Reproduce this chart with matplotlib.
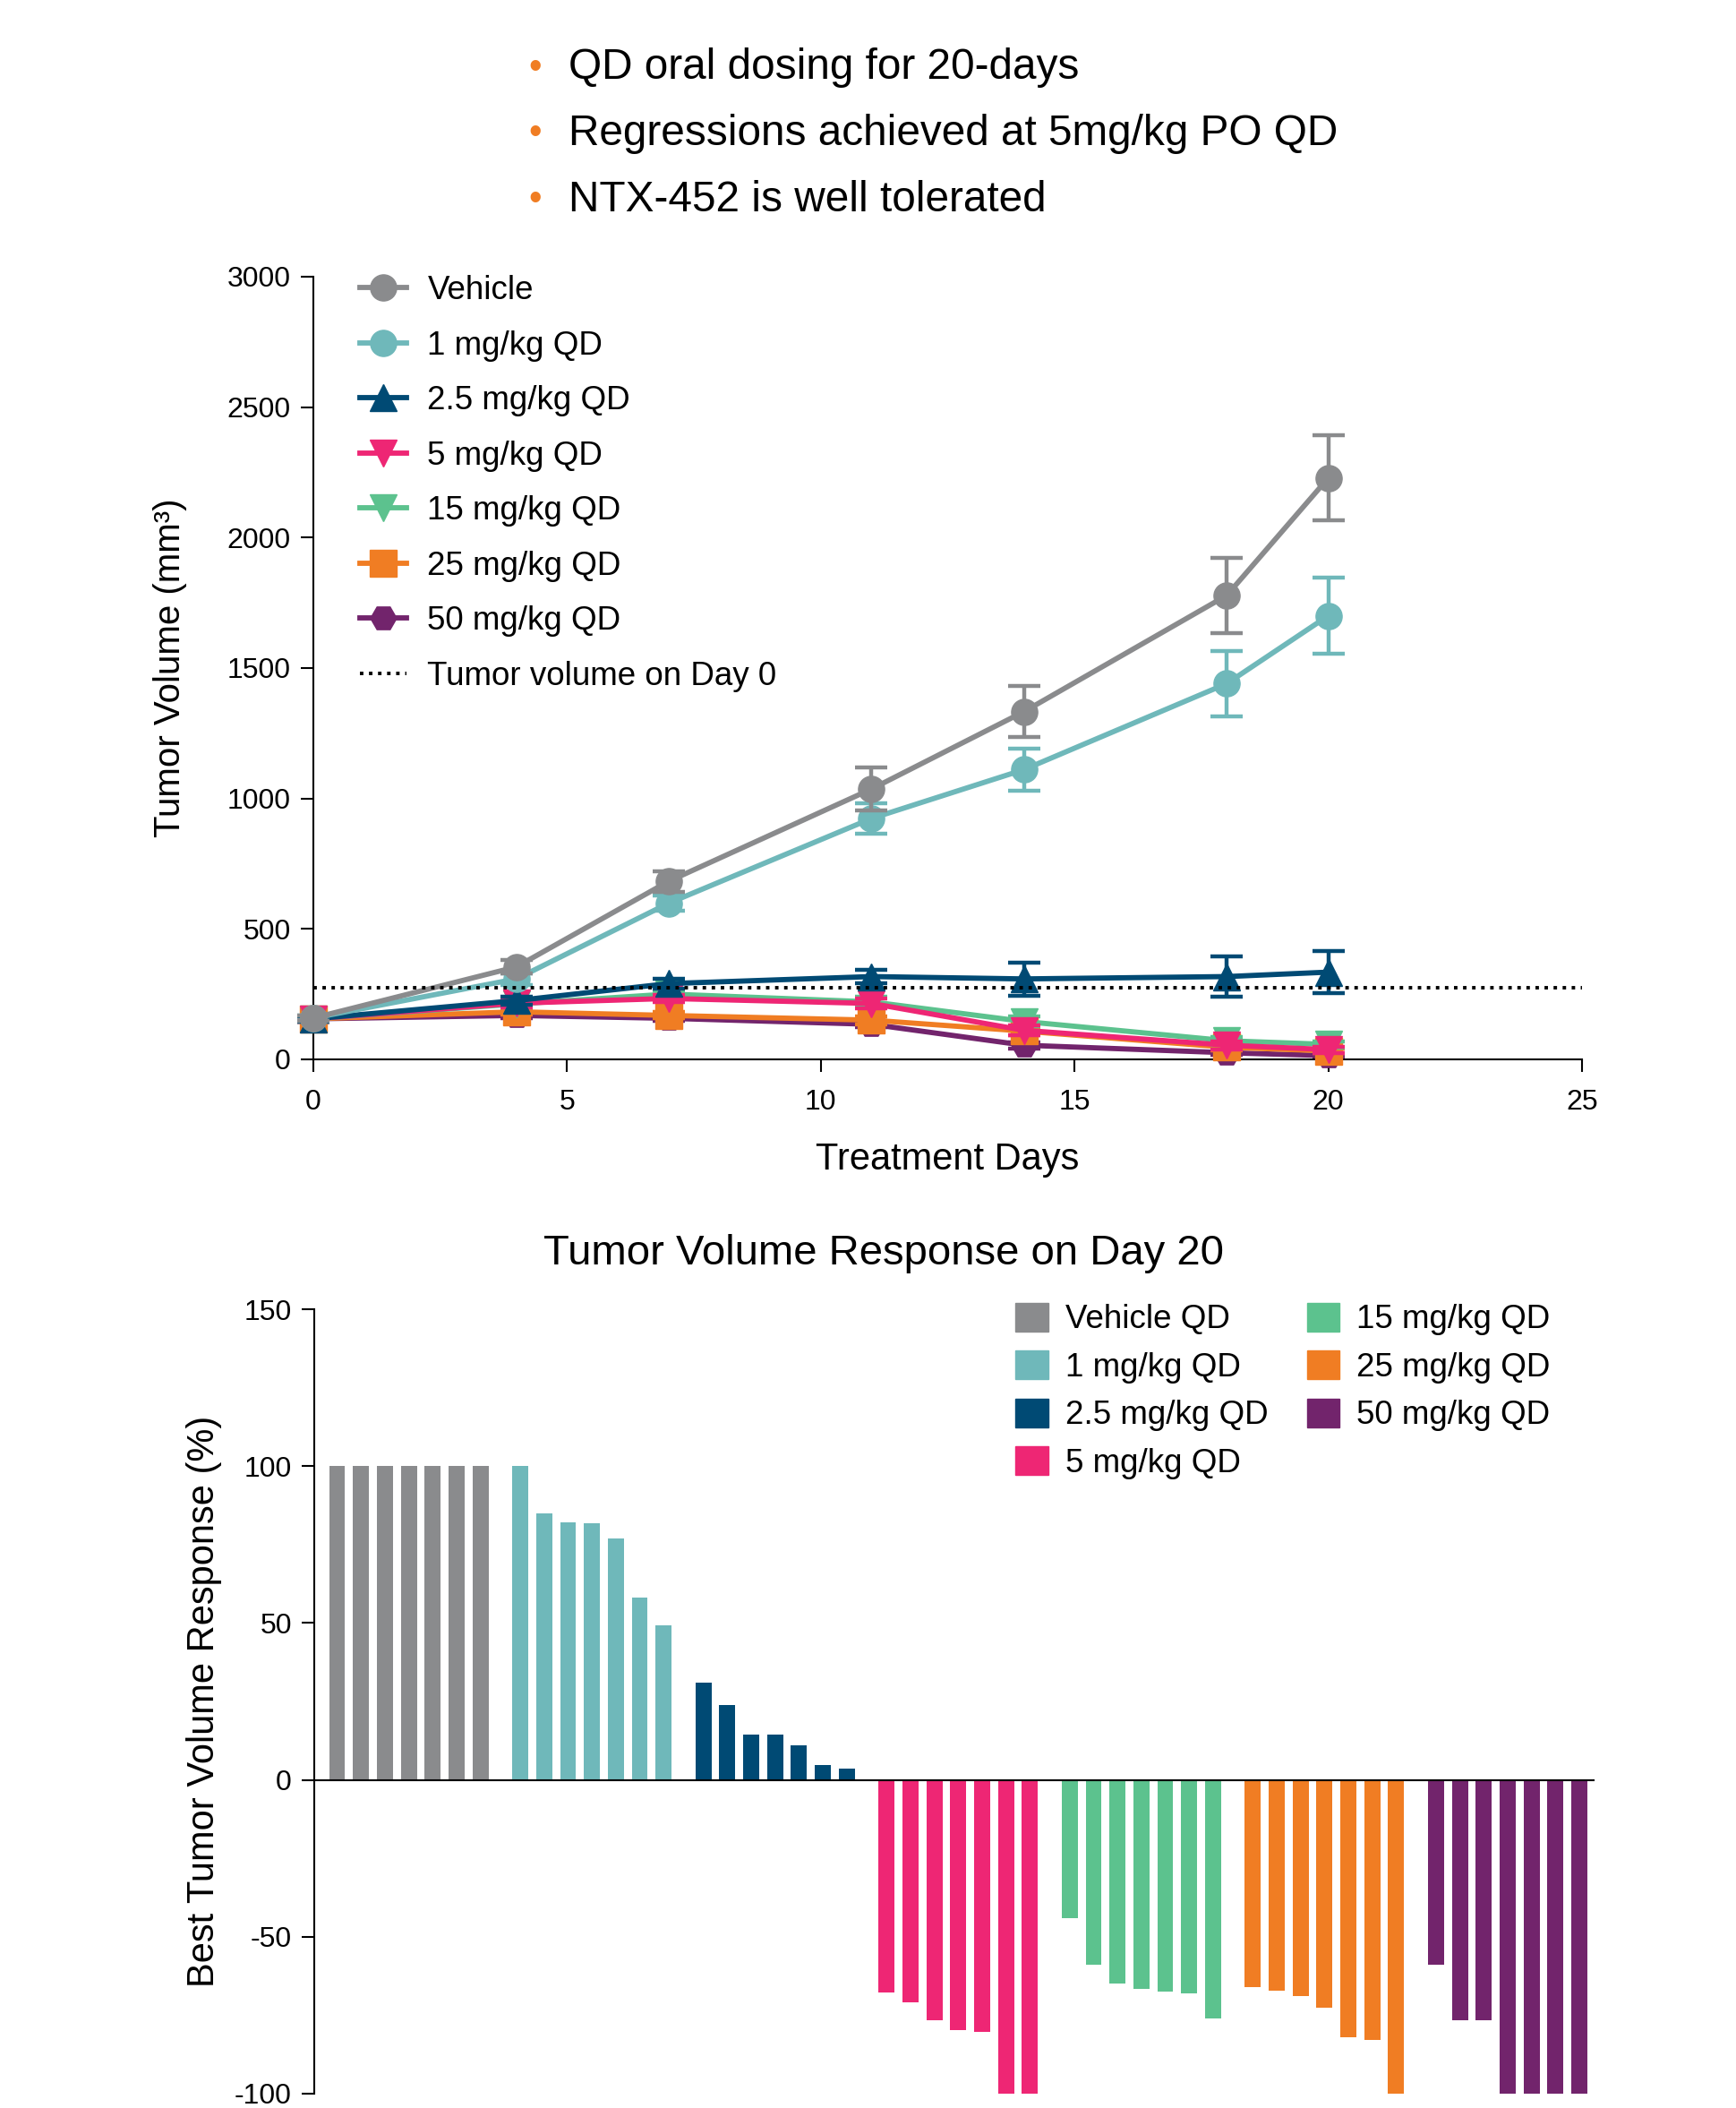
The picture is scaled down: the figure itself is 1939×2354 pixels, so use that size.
import numpy as np
import matplotlib.pyplot as plt
from matplotlib.patches import Patch
from matplotlib.lines import Line2D

plt.rcParams['font.family'] = ['Liberation Sans', 'DejaVu Sans']
plt.rcParams['axes.unicode_minus'] = False

# ---- tumor growth data ----
days = [0, 4, 7, 11, 14, 18, 20]
groups = ['Vehicle', '1 mg/kg QD', '2.5 mg/kg QD', '5 mg/kg QD',
          '15 mg/kg QD', '25 mg/kg QD', '50 mg/kg QD']
colors = ['#8A8B8D', '#6FB8BA', '#004A74', '#EE2674',
          '#5CC28E', '#F07D23', '#72246C']
markers = ['o', 'o', '^', 'v', 'v', 's', 'H']

vehicle = [158, 354, 682, 1036, 1332, 1778, 2228]
vehicle_err = [10, 25, 40, 83, 98, 145, 163]
mg1 = [158, 308, 598, 923, 1110, 1440, 1700]
mg1_err = [10, 22, 30, 57, 80, 125, 145]
mg2_5 = [155, 225, 290, 317, 308, 317, 334]
mg2_5_err = [10, 15, 20, 25, 63, 76, 82]
mg5 = [155, 215, 233, 214, 111, 54, 37]
mg5_err = [10, 15, 15, 20, 20, 15, 12]
mg15 = [155, 212, 250, 220, 145, 71, 57]
mg15_err = [10, 15, 15, 20, 20, 15, 12]
mg25 = [155, 182, 168, 150, 108, 46, 32]
mg25_err = [10, 12, 12, 15, 15, 12, 10]
mg50 = [155, 168, 157, 134, 54, 25, 14]
mg50_err = [10, 10, 10, 12, 12, 8, 6]
day0_volume = 275

series = [vehicle, mg1, mg2_5, mg5, mg15, mg25, mg50]
errors = [vehicle_err, mg1_err, mg2_5_err, mg5_err, mg15_err, mg25_err, mg50_err]

# ---- day 20 waterfall data ----
bar_labels = ['Vehicle QD', '1 mg/kg QD', '2.5 mg/kg QD', '5 mg/kg QD',
              '15 mg/kg QD', '25 mg/kg QD', '50 mg/kg QD']
resp_vehicle = [100, 100, 100, 100, 100, 100, 100]
resp_1 = [100, 85, 82, 81.7, 77, 58, 49.3]
resp_2_5 = [31, 24, 14.4, 14.4, 11, 4.8, 3.7]
resp_5 = [-67.7, -70.8, -76.5, -79.7, -80.3, -100, -100]
resp_15 = [-44, -59, -65, -66.7, -67.6, -67.9, -75.9]
resp_25 = [-66.1, -67.3, -68.8, -72.7, -82.1, -83, -100]
resp_50 = [-58.8, -76.7, -76.7, -100, -100, -100, -100]
responses = [resp_vehicle, resp_1, resp_2_5, resp_5, resp_15, resp_25, resp_50]

fig = plt.figure(figsize=(19.39, 23.54), dpi=100)

# bullets
bullets = ['QD oral dosing for 20-days',
           'Regressions achieved at 5mg/kg PO QD',
           'NTX-452 is well tolerated']
for i, b in enumerate(bullets):
    yy = 1 - (76 + i * 73.5) / 2354
    fig.text(0.3045, yy, '\u2022', color='#F07D23', fontsize=30, va='center')
    fig.text(0.3275, yy, b, fontsize=34.4, va='center')

# ---- line chart ----
ax = fig.add_axes([0.1805, 0.4975, 0.7308, 0.3713])
z = [8, 7, 6, 5, 4, 3, 2]
for i in range(len(groups)):
    ax.errorbar(days, series[i], yerr=errors[i], color=colors[i], marker=markers[i],
                markersize=21, linewidth=4.2, elinewidth=3.2, capsize=13, capthick=3.2,
                zorder=z[i], clip_on=False)
ax.axhline(day0_volume, color='black', linestyle=(0, (1, 1.6)), linewidth=2.8, zorder=9)
ax.set_xlim(0, 25)
ax.set_ylim(0, 3000)
ax.set_xticks([0, 5, 10, 15, 20, 25])
ax.set_yticks([0, 500, 1000, 1500, 2000, 2500, 3000])
ax.spines['top'].set_visible(False)
ax.spines['right'].set_visible(False)
for s in ['left', 'bottom']:
    ax.spines[s].set_linewidth(1.5)
ax.tick_params(direction='out', length=10, width=1.5, labelsize=23, pad=8)
ax.tick_params(axis='x', pad=14)
ax.set_xlabel('Treatment Days', fontsize=30, labelpad=21)
ax.set_ylabel('Tumor Volume (mm\u00b3)', fontsize=29, labelpad=32)

handles = [Line2D([], [], color=colors[i], marker=markers[i], markersize=21, linewidth=4.2)
           for i in range(len(groups))]
handles.append(Line2D([], [], color='black', linestyle=(0, (1, 1.6)), linewidth=2.8))
ax.legend(handles, groups + ['Tumor volume on Day 0'], loc='upper left',
          bbox_to_anchor=(0.0136, 1.04), frameon=False, fontsize=26.5,
          handlelength=1.39, handletextpad=0.65, labelspacing=0.72)

# ---- waterfall ----
bx = fig.add_axes([0.181, 0.0068, 0.737, 0.3721])
gap = 7.67
for g in range(len(responses)):
    xs = g * gap + np.arange(len(responses[g]))
    bx.bar(xs, responses[g], width=0.67, color=colors[g], label=bar_labels[g])
bx.set_xlim(-0.96, 52.62)
bx.set_ylim(-100, 150)
bx.set_yticks([-100, -50, 0, 50, 100, 150])
bx.set_xticks([])
bx.spines['top'].set_visible(False)
bx.spines['right'].set_visible(False)
bx.spines['bottom'].set_position(('data', 0))
for s in ['left', 'bottom']:
    bx.spines[s].set_linewidth(1.5)
bx.tick_params(axis='y', direction='out', length=10, width=1.5, labelsize=23, pad=8)
bx.set_ylabel('Best Tumor Volume Response (%)', fontsize=30, labelpad=10)
patches = [Patch(color=c) for c in colors]
bx.legend(patches, bar_labels, ncol=2, loc='upper left', bbox_to_anchor=(0.525, 1.046),
          frameon=False, fontsize=26.5, handlelength=1.0, handleheight=0.95,
          handletextpad=0.5, labelspacing=0.46, columnspacing=1.18)
fig.text(0.509, 1 - 1400 / 2354, 'Tumor Volume Response on Day 20', fontsize=34,
         ha='center', va='center')

fig.savefig('out.png', dpi=100)
